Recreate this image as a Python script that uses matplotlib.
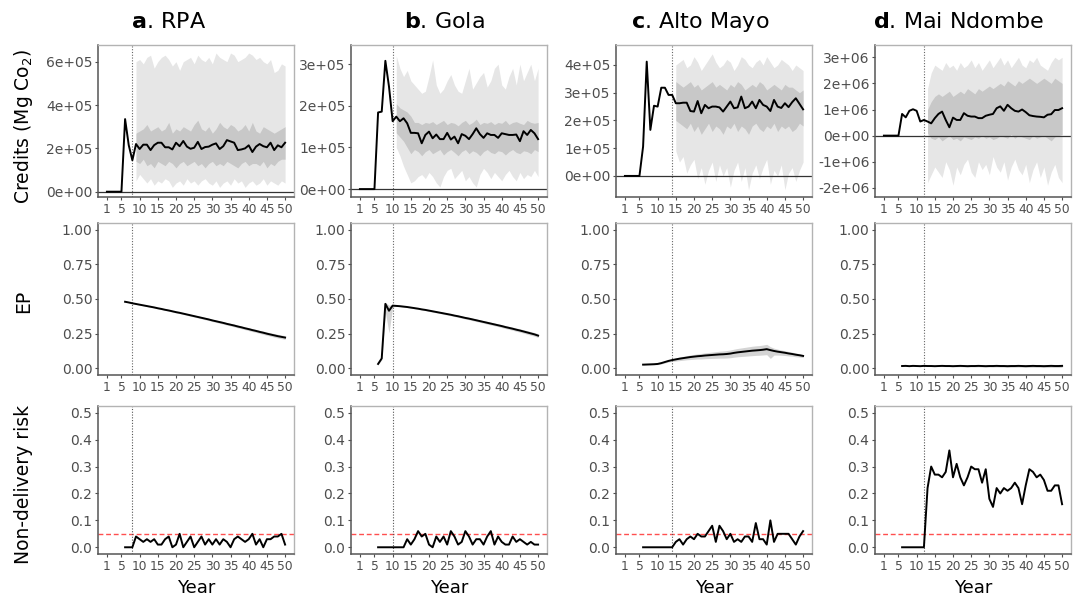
import matplotlib

matplotlib.use("Agg")
import matplotlib.pyplot as plt
import numpy as np

plt.rcParams["font.family"] = ["DejaVu Sans"]
plt.rcParams["mathtext.fontset"] = "dejavusans"

SITE_LETTERS = ["a", "b", "c", "d"]
SITE_NAMES = ["RPA", "Gola", "Alto Mayo", "Mai Ndombe"]
YEAR_TICKS = [1, 5, 10, 15, 20, 25, 30, 35, 40, 45, 50]
PROJECT_START = [8, 10, 14, 12]

# credits, in units of CREDIT_UNIT (years 1..50)
CREDIT_UNIT = [1e5, 1e5, 1e5, 1e6]
credits_a = [0, 0, 0, 0, 0, 3.35, 2.15, 1.45,
             2.20, 1.97, 2.17, 2.17, 1.92, 2.15, 2.26, 2.26, 2.05, 2.05,
             1.95, 2.26, 2.10, 2.34, 2.08, 1.98, 2.03, 2.30, 1.97, 2.06,
             2.08, 2.17, 2.23, 1.97, 2.10, 2.38, 2.32, 2.26, 1.92, 1.95,
             2.00, 2.14, 1.83, 2.08, 2.20, 2.10, 2.05, 2.26, 1.92, 2.14,
             2.05, 2.26]
credits_b = [0, 0, 0, 0, 0, 1.84, 1.86, 3.08, 2.46, 1.63,
             1.74, 1.63, 1.70, 1.58, 1.35, 1.35, 1.34, 1.10, 1.30, 1.38,
             1.22, 1.31, 1.20, 1.20, 1.35, 1.19, 1.26, 1.10, 1.32, 1.28,
             1.20, 1.32, 1.46, 1.32, 1.23, 1.34, 1.30, 1.30, 1.23, 1.34,
             1.32, 1.30, 1.30, 1.31, 1.15, 1.39, 1.30, 1.42, 1.34, 1.20]
credits_c = [0, 0, 0, 0, 0, 1.06, 4.12, 1.66, 2.53, 2.50,
             3.18, 3.18, 2.92, 2.92, 2.62, 2.62, 2.64, 2.64, 2.34, 2.32,
             2.70, 2.26, 2.56, 2.44, 2.50, 2.50, 2.47, 2.32, 2.50, 2.68,
             2.44, 2.47, 2.86, 2.44, 2.50, 2.68, 2.44, 2.74, 2.56, 2.50,
             2.34, 2.74, 2.50, 2.45, 2.62, 2.48, 2.66, 2.80, 2.60, 2.40]
credits_d = [0, 0, 0, 0, 0, 0.83, 0.70, 0.95, 1.01, 0.95,
             0.54, 0.60, 0.54, 0.47, 0.67, 0.83, 0.92, 0.60, 0.32, 0.69,
             0.60, 0.60, 0.86, 0.76, 0.73, 0.73, 0.67, 0.67, 0.76, 0.80,
             0.83, 1.05, 1.12, 0.95, 1.18, 1.05, 0.95, 0.92, 1.00, 0.90,
             0.78, 0.75, 0.73, 0.72, 0.70, 0.80, 0.82, 0.98, 0.98, 1.05]

# credit ribbons, from the year after the project start to year 50
outer_hi_a = [6.0, 6.1, 5.9, 6.2, 6.3, 5.7, 6.0, 6.2, 6.3, 6.1,
              5.8, 6.0, 5.6, 6.0, 6.1, 6.2, 5.9, 6.3, 6.1, 6.0,
              6.2, 5.9, 6.4, 6.2, 6.1, 6.0, 6.4, 6.3, 6.0, 6.1,
              6.2, 6.4, 6.3, 6.1, 6.2, 6.0, 5.9, 6.1, 5.5, 5.6,
              5.9, 5.8]
outer_lo_a = [0.5, 0.8, 0.6, 0.4, 0.6, 0.3, 0.5, 0.4, 0.6, 0.5,
              0.2, 0.4, 0.5, 0.3, 0.6, 0.4, 0.5, 0.3, 0.5, 0.6,
              0.4, 0.3, 0.5, 0.2, 0.4, 0.5, 0.3, 0.6, 0.4, 0.5,
              0.2, 0.4, 0.5, 0.3, 0.4, 0.6, 0.3, 0.5, 0.4, 0.3,
              0.5, 0.4]
inner_hi_a = [2.7, 2.8, 2.9, 3.1, 2.8, 2.9, 3.0, 2.8, 2.9, 3.2,
              2.7, 2.9, 2.8, 3.0, 2.9, 2.8, 3.1, 3.3, 2.9, 2.8,
              3.0, 2.7, 2.9, 3.2, 3.0, 2.9, 3.1, 3.0, 2.8, 2.9,
              3.1, 2.8, 3.2, 2.8, 2.7, 3.0, 2.9, 2.8, 2.7, 2.8,
              2.9, 3.0]
inner_lo_a = [1.4, 1.3, 1.5, 1.2, 1.3, 1.1, 1.4, 1.3, 1.2, 1.4,
              1.3, 1.1, 1.3, 1.4, 1.2, 1.3, 1.4, 1.2, 1.3, 1.1,
              1.3, 1.4, 1.2, 1.3, 1.2, 1.4, 1.3, 1.2, 1.1, 1.3,
              1.4, 1.2, 1.3, 1.3, 1.2, 1.4, 1.1, 1.3, 1.2, 1.4,
              1.5, 1.5]

outer_hi_b = [3.2, 2.9, 2.7, 2.85, 2.6, 2.5, 2.4, 2.3, 2.35, 2.7,
              3.1, 2.5, 2.3, 2.4, 2.6, 2.75, 2.5, 2.35, 2.3, 2.6,
              2.9, 2.4, 2.55, 2.7, 2.8, 2.45, 2.6, 2.9, 3.0, 2.5,
              2.4, 2.7, 2.9, 2.5, 3.0, 2.6, 2.8, 3.0, 2.6, 2.9]
outer_lo_b = [1.0, 0.8, 0.55, 0.35, 0.15, 0.2, 0.3, 0.35, 0.25, 0.4,
              0.3, 0.15, 0.05, 0.3, 0.45, 0.5, 0.25, 0.35, 0.45, 0.2,
              0.3, 0.15, 0.05, 0.35, 0.5, 0.4, 0.25, 0.4, 0.3, 0.2,
              0.35, 0.45, 0.3, 0.2, 0.4, 0.25, 0.35, 0.3, 0.45, 0.3]
inner_hi_b = [2.05, 1.95, 1.9, 1.85, 1.75, 1.6, 1.6, 1.55, 1.6, 1.58,
              1.62, 1.55, 1.6, 1.65, 1.55, 1.6, 1.58, 1.52, 1.6, 1.65,
              1.55, 1.6, 1.68, 1.55, 1.6, 1.58, 1.62, 1.55, 1.6, 1.58,
              1.65, 1.55, 1.6, 1.62, 1.58, 1.55, 1.65, 1.6, 1.58, 1.6]
inner_lo_b = [1.35, 1.25, 1.15, 1.0, 0.85, 0.95, 0.9, 0.8, 0.9, 0.95,
              0.85, 0.9, 0.95, 0.82, 0.9, 0.95, 0.88, 0.8, 0.9, 0.95,
              0.85, 0.92, 0.88, 0.8, 0.9, 0.95, 0.88, 0.85, 0.92, 0.9,
              0.82, 0.9, 0.95, 0.88, 0.85, 0.92, 0.9, 0.85, 0.95, 0.9]

outer_hi_c = [4.0, 4.1, 4.2, 3.9, 4.0, 4.3, 4.1, 3.8, 4.0, 4.2,
              4.4, 4.1, 3.9, 4.0, 4.2, 4.1, 3.8, 4.0, 4.3, 4.2,
              4.0, 3.9, 4.1, 4.2, 4.0, 4.3, 4.1, 3.9, 4.0, 4.2,
              4.1, 4.0, 3.8, 4.0, 3.9, 3.8]
outer_lo_c = [0.9, 0.5, 0.7, 0.1, 0.4, 0.6, -0.1, 0.3, -0.3, 0.2,
              0.5, -0.2, 0.4, 0.0, 0.3, -0.4, 0.2, 0.5, -0.2, 0.3,
              -0.5, 0.1, 0.4, -0.1, 0.3, 0.6, -0.3, 0.2, 0.0, 0.4,
              -0.5, 0.1, 0.3, -0.2, 0.2, 0.5]
inner_hi_c = [3.4, 3.3, 3.2, 3.3, 3.4, 3.2, 3.3, 3.1, 3.2, 3.3,
              3.4, 3.2, 3.3, 3.2, 3.1, 3.3, 3.2, 3.4, 3.3, 3.1,
              3.2, 3.3, 3.2, 3.4, 3.3, 3.1, 3.2, 3.3, 3.2, 3.1,
              3.3, 3.2, 3.2, 3.1, 3.0, 3.1]
inner_lo_c = [2.0, 1.9, 1.8, 1.7, 1.9, 1.6, 1.8, 1.5, 1.7, 1.9,
              1.6, 1.8, 1.7, 1.5, 1.8, 1.7, 1.9, 1.6, 1.8, 1.7,
              1.5, 1.8, 1.9, 1.7, 1.6, 1.8, 1.7, 1.9, 1.6, 1.8,
              1.7, 1.8, 1.6, 1.7, 1.9, 1.8]

outer_hi_d = [1.8, 2.4, 2.7, 2.6, 2.5, 2.8, 2.6, 2.7, 2.5, 2.8,
              2.6, 2.7, 2.9, 2.6, 2.8, 2.5, 2.7, 2.9, 2.6, 2.8,
              3.0, 2.7, 2.9, 2.6, 2.8, 3.0, 2.7, 2.6, 2.9, 2.8,
              3.0, 2.7, 2.6, 2.5, 2.8, 3.0, 2.9, 3.0]
outer_lo_d = [-1.8, -1.5, -1.2, -1.4, -1.6, -1.0, -1.3, -1.9, -1.2, -1.5,
              -1.1, -0.9, -1.4, -1.6, -1.0, -1.3, -1.1, -1.5, -0.8, -1.2,
              -1.4, -1.0, -1.7, -1.2, -0.9, -1.3, -1.5, -1.1, -1.8, -1.3,
              -1.0, -1.6, -1.2, -1.9, -1.4, -1.1, -1.6, -1.8]
inner_hi_d = [1.0, 1.3, 1.5, 1.6, 1.5, 1.6, 1.7, 1.5, 1.6, 1.7,
              1.6, 1.8, 1.7, 1.6, 1.8, 1.7, 1.8, 1.9, 1.8, 1.9,
              2.0, 1.9, 2.1, 2.0, 1.9, 2.1, 2.0, 2.1, 2.2, 2.1,
              2.0, 2.1, 2.2, 2.1, 2.0, 2.2, 2.1, 2.0]
inner_lo_d = [0.1, -0.1, -0.15, -0.05, -0.2, -0.1, 0.0, -0.15, -0.1, -0.2,
              -0.05, -0.1, -0.15, -0.05, -0.1, 0.0, -0.1, -0.05, -0.15, -0.1,
              0.0, -0.05, -0.1, 0.05, -0.1, 0.0, -0.05, -0.1, -0.15, 0.0,
              -0.1, -0.05, 0.0, -0.1, -0.2, -0.05, 0.0, 0.05]

# EP (years 6..50) and ribbon half-widths below / above
ep_a = [0.480, 0.475, 0.469, 0.464, 0.459, 0.454, 0.449, 0.444, 0.439, 0.433,
        0.428, 0.422, 0.417, 0.411, 0.405, 0.400, 0.394, 0.388, 0.382, 0.376,
        0.370, 0.364, 0.358, 0.352, 0.345, 0.339, 0.333, 0.327, 0.320, 0.314,
        0.308, 0.301, 0.295, 0.288, 0.282, 0.275, 0.269, 0.262, 0.256, 0.249,
        0.243, 0.237, 0.231, 0.226, 0.221]
ep_b = [0.030, 0.070, 0.465, 0.415, 0.452, 0.450, 0.448, 0.445, 0.442, 0.438,
        0.434, 0.430, 0.425, 0.421, 0.416, 0.411, 0.406, 0.401, 0.396, 0.391,
        0.386, 0.380, 0.375, 0.369, 0.363, 0.358, 0.352, 0.346, 0.340, 0.334,
        0.328, 0.322, 0.316, 0.310, 0.304, 0.297, 0.291, 0.285, 0.278, 0.272,
        0.265, 0.258, 0.251, 0.244, 0.235]
ep_c = [0.025, 0.026, 0.027, 0.028, 0.030, 0.036, 0.044, 0.052, 0.058, 0.063,
        0.068, 0.072, 0.076, 0.080, 0.083, 0.086, 0.088, 0.091, 0.093, 0.095,
        0.097, 0.099, 0.100, 0.102, 0.105, 0.110, 0.114, 0.117, 0.120, 0.123,
        0.126, 0.128, 0.130, 0.133, 0.137, 0.130, 0.124, 0.119, 0.115, 0.111,
        0.106, 0.102, 0.097, 0.093, 0.088]
ep_d = [0.015, 0.016, 0.014, 0.016, 0.015, 0.014, 0.016, 0.015, 0.015, 0.014,
        0.015, 0.016, 0.015, 0.015, 0.014, 0.015, 0.016, 0.015, 0.014, 0.015,
        0.015, 0.016, 0.015, 0.014, 0.015, 0.015, 0.016, 0.015, 0.015, 0.014,
        0.015, 0.015, 0.016, 0.015, 0.014, 0.015, 0.016, 0.015, 0.015, 0.014,
        0.015, 0.016, 0.015, 0.015, 0.016]
ep_dev_a = [0.002, 0.002, 0.003, 0.003, 0.003, 0.003, 0.004, 0.004, 0.004, 0.004,
            0.005, 0.005, 0.005, 0.005, 0.006, 0.006, 0.006, 0.006, 0.007, 0.007,
            0.007, 0.007, 0.008, 0.008, 0.008, 0.008, 0.009, 0.009, 0.009, 0.009,
            0.010, 0.010, 0.010, 0.010, 0.011, 0.011, 0.011, 0.011, 0.012, 0.012,
            0.012, 0.013, 0.013, 0.013, 0.014]
ep_dn_b = [0.005, 0.010, 0.060, 0.160, 0.010, 0.003, 0.004, 0.004, 0.004, 0.004,
           0.005, 0.005, 0.005, 0.005, 0.006, 0.006, 0.006, 0.006, 0.007, 0.007,
           0.007, 0.007, 0.008, 0.008, 0.008, 0.008, 0.009, 0.009, 0.009, 0.009,
           0.010, 0.010, 0.010, 0.010, 0.011, 0.011, 0.011, 0.011, 0.012, 0.012,
           0.012, 0.013, 0.013, 0.013, 0.014]
ep_up_b = [0.005, 0.010, 0.010, 0.040, 0.005, 0.003, 0.004, 0.004, 0.004, 0.004,
           0.005, 0.005, 0.005, 0.005, 0.006, 0.006, 0.006, 0.006, 0.007, 0.007,
           0.007, 0.007, 0.008, 0.008, 0.008, 0.008, 0.009, 0.009, 0.009, 0.009,
           0.010, 0.010, 0.010, 0.010, 0.011, 0.011, 0.011, 0.011, 0.012, 0.012,
           0.012, 0.013, 0.013, 0.013, 0.014]
ep_dn_c = [0.003, 0.003, 0.004, 0.004, 0.005, 0.006, 0.007, 0.008, 0.010, 0.012,
           0.014, 0.015, 0.016, 0.018, 0.019, 0.020, 0.022, 0.023, 0.024, 0.025,
           0.026, 0.027, 0.028, 0.029, 0.030, 0.031, 0.032, 0.033, 0.034, 0.035,
           0.036, 0.036, 0.037, 0.038, 0.040, 0.060, 0.030, 0.025, 0.022, 0.020,
           0.018, 0.016, 0.015, 0.013, 0.012]
ep_up_c = [0.003, 0.003, 0.004, 0.004, 0.005, 0.006, 0.007, 0.008, 0.010, 0.011,
           0.012, 0.013, 0.014, 0.015, 0.016, 0.017, 0.018, 0.019, 0.020, 0.021,
           0.022, 0.023, 0.024, 0.025, 0.026, 0.027, 0.028, 0.029, 0.030, 0.031,
           0.032, 0.033, 0.033, 0.034, 0.035, 0.025, 0.020, 0.018, 0.016, 0.015,
           0.014, 0.013, 0.012, 0.011, 0.010]
ep_dev_d = [0.002, 0.002, 0.002, 0.003, 0.003, 0.003, 0.003, 0.004, 0.004, 0.004,
            0.004, 0.005, 0.005, 0.005, 0.005, 0.006, 0.006, 0.006, 0.006, 0.006,
            0.007, 0.007, 0.007, 0.007, 0.007, 0.008, 0.008, 0.008, 0.008, 0.008,
            0.009, 0.009, 0.009, 0.009, 0.009, 0.010, 0.010, 0.010, 0.010, 0.010,
            0.011, 0.011, 0.011, 0.011, 0.011]

# non-delivery risk (years 6..50)
risk_a = [0, 0, 0, 0.04, 0.03, 0.02, 0.03, 0.02, 0.03, 0.01,
          0.01, 0.03, 0.04, 0.0, 0.01, 0.05, 0.0, 0.02, 0.04, 0.0,
          0.02, 0.04, 0.01, 0.03, 0.01, 0.03, 0.01, 0.03, 0.02, 0.0,
          0.03, 0.04, 0.03, 0.02, 0.03, 0.05, 0.01, 0.03, 0.0, 0.03,
          0.03, 0.04, 0.04, 0.05, 0.01]
risk_b = [0, 0, 0, 0, 0, 0, 0, 0,
          0.03, 0.01, 0.03, 0.06, 0.04, 0.05, 0.01, 0.0, 0.04, 0.02,
          0.04, 0.01, 0.06, 0.04, 0.01, 0.02, 0.06, 0.04, 0.01, 0.03,
          0.03, 0.01, 0.04, 0.06, 0.01, 0.04, 0.02, 0.01, 0.01, 0.04,
          0.02, 0.03, 0.02, 0.01, 0.02, 0.01, 0.01]
risk_c = [0, 0, 0, 0, 0, 0, 0, 0, 0,
          0.02, 0.03, 0.01, 0.03, 0.04, 0.03, 0.05, 0.04, 0.04, 0.06,
          0.08, 0.02, 0.08, 0.06, 0.03, 0.05, 0.02, 0.03, 0.02, 0.04,
          0.04, 0.02, 0.09, 0.03, 0.03, 0.01, 0.10, 0.02, 0.05, 0.05,
          0.05, 0.05, 0.03, 0.01, 0.04, 0.06]
risk_d = [0, 0, 0, 0, 0, 0, 0,
          0.22, 0.30, 0.27, 0.27, 0.26, 0.28, 0.36, 0.26, 0.31, 0.26,
          0.23, 0.26, 0.30, 0.29, 0.29, 0.24, 0.29, 0.18, 0.15, 0.22,
          0.20, 0.22, 0.21, 0.22, 0.24, 0.22, 0.16, 0.23, 0.29, 0.28,
          0.26, 0.27, 0.25, 0.21, 0.21, 0.23, 0.23, 0.16]
RISK_THRESHOLD = 0.05

credits = [credits_a, credits_b, credits_c, credits_d]
outer_hi = [outer_hi_a, outer_hi_b, outer_hi_c, outer_hi_d]
outer_lo = [outer_lo_a, outer_lo_b, outer_lo_c, outer_lo_d]
inner_hi = [inner_hi_a, inner_hi_b, inner_hi_c, inner_hi_d]
inner_lo = [inner_lo_a, inner_lo_b, inner_lo_c, inner_lo_d]
ep = [ep_a, ep_b, ep_c, ep_d]
ep_dn = [ep_dev_a, ep_dn_b, ep_dn_c, ep_dev_d]
ep_up = [ep_dev_a, ep_up_b, ep_up_c, ep_dev_d]
risk = [risk_a, risk_b, risk_c, risk_d]

CREDIT_TICKS = [[0, 2e5, 4e5, 6e5], [0, 1e5, 2e5, 3e5],
                [0, 1e5, 2e5, 3e5, 4e5], [-2e6, -1e6, 0, 1e6, 2e6, 3e6]]
CREDIT_YLIM = [(-0.245e5, 6.77e5), (-0.19e5, 3.46e5), (-0.76e5, 4.72e5), (-2.35e6, 3.47e6)]
EP_TICKS = [0.0, 0.25, 0.5, 0.75, 1.0]
RISK_TICKS = [0.0, 0.1, 0.2, 0.3, 0.4, 0.5]

# layout in pixels
W, H = 1075, 603
COL_LEFT = [98, 351, 616, 875]
COL_WIDTH = 196
ROW_TOP = [45, 223, 406]
ROW_HEIGHT = [152, 152, 148]
TITLE_X = [169, 444, 700, 958]

TICK_GREY = "#4d4d4d"
OUTER_GREY = "#e6e6e6"
INNER_GREY = "#c8c8c8"


def add_box(fig, col, row):
    left = COL_LEFT[col] / W
    bottom = 1 - (ROW_TOP[row] + ROW_HEIGHT[row]) / H
    return fig.add_axes([left, bottom, COL_WIDTH / W, ROW_HEIGHT[row] / H])


def style_axis(ax, ylim, yticks, ylabels):
    ax.set_xlim(1 - 2.45, 50 + 2.45)
    ax.set_ylim(*ylim)
    ax.set_xticks(YEAR_TICKS)
    ax.set_xticklabels([str(t) for t in YEAR_TICKS])
    ax.set_yticks(yticks)
    ax.set_yticklabels(ylabels)
    ax.tick_params(axis="x", labelsize=8.8, labelcolor=TICK_GREY, color=TICK_GREY,
                   length=2.5, width=0.8, pad=2)
    ax.tick_params(axis="y", labelsize=10, labelcolor=TICK_GREY, color=TICK_GREY,
                   length=2.5, width=0.8, pad=1.5)
    for side in ("left", "bottom"):
        ax.spines[side].set_color("#555555")
        ax.spines[side].set_linewidth(1.1)
    for side in ("top", "right"):
        ax.spines[side].set_color("#b3b3b3")
        ax.spines[side].set_linewidth(1.0)


fig = plt.figure(figsize=(W / 100, H / 100), dpi=100)

for col in range(4):
    start = PROJECT_START[col]
    unit = CREDIT_UNIT[col]

    # credits
    ax = add_box(fig, col, 0)
    years = np.arange(1, len(credits[col]) + 1)
    band_years = np.arange(start + 1, start + 1 + len(outer_hi[col]))
    ax.fill_between(band_years, np.array(outer_lo[col]) * unit, np.array(outer_hi[col]) * unit,
                    color=OUTER_GREY, lw=0, zorder=1)
    ax.fill_between(band_years, np.array(inner_lo[col]) * unit, np.array(inner_hi[col]) * unit,
                    color=INNER_GREY, lw=0, zorder=1.5)
    ax.axhline(0, color="#333333", lw=0.9, zorder=2)
    ax.axvline(start, color="#666666", lw=0.8, ls=(0, (1, 1.5)), zorder=2)
    ax.plot(years, np.array(credits[col]) * unit, color="black", lw=1.4, zorder=3)
    style_axis(ax, CREDIT_YLIM[col], CREDIT_TICKS[col],
               [f"{v:.0e}" for v in CREDIT_TICKS[col]])

    # EP
    ax = add_box(fig, col, 1)
    ep_vals = np.array(ep[col])
    years = np.arange(6, 6 + len(ep_vals))
    ax.fill_between(years, ep_vals - np.array(ep_dn[col]), ep_vals + np.array(ep_up[col]),
                    color="#d4d4d4", lw=0, zorder=1)
    ax.axvline(start, color="#666666", lw=0.8, ls=(0, (1, 1.5)), zorder=2)
    ax.plot(years, ep_vals, color="black", lw=1.4, zorder=3)
    style_axis(ax, (-0.05, 1.05), EP_TICKS, [f"{v:.2f}" for v in EP_TICKS])

    # non-delivery risk
    ax = add_box(fig, col, 2)
    years = np.arange(6, 6 + len(risk[col]))
    ax.axhline(RISK_THRESHOLD, color="#ff4f4f", lw=1.0, ls=(0, (3.5, 2)), zorder=2)
    ax.axvline(start, color="#555555", lw=0.8, ls=(0, (1, 1.5)), zorder=2)
    ax.plot(years, risk[col], color="black", lw=1.4, zorder=3)
    style_axis(ax, (-0.025, 0.525), RISK_TICKS, [f"{v:.1f}" for v in RISK_TICKS])

    fig.text((COL_LEFT[col] + COL_WIDTH / 2) / W, 1 - 579 / H, "Year",
             ha="center", va="top", fontsize=13, color="black")
    fig.text(TITLE_X[col] / W, 1 - 28 / H,
             rf"$\bf{{{SITE_LETTERS[col]}}}$. {SITE_NAMES[col]}",
             ha="center", va="baseline", fontsize=16, color="black")

fig.text(24 / W, 1 - 126 / H, r"Credits (Mg Co$_2$)", rotation=90,
         ha="center", va="center", fontsize=13.5)
fig.text(24 / W, 1 - 301 / H, "EP", rotation=90, ha="center", va="center", fontsize=13.5)
fig.text(24 / W, 1 - 484 / H, "Non-delivery risk", rotation=90,
         ha="center", va="center", fontsize=13.5)

fig.savefig("out.png", dpi=100)
